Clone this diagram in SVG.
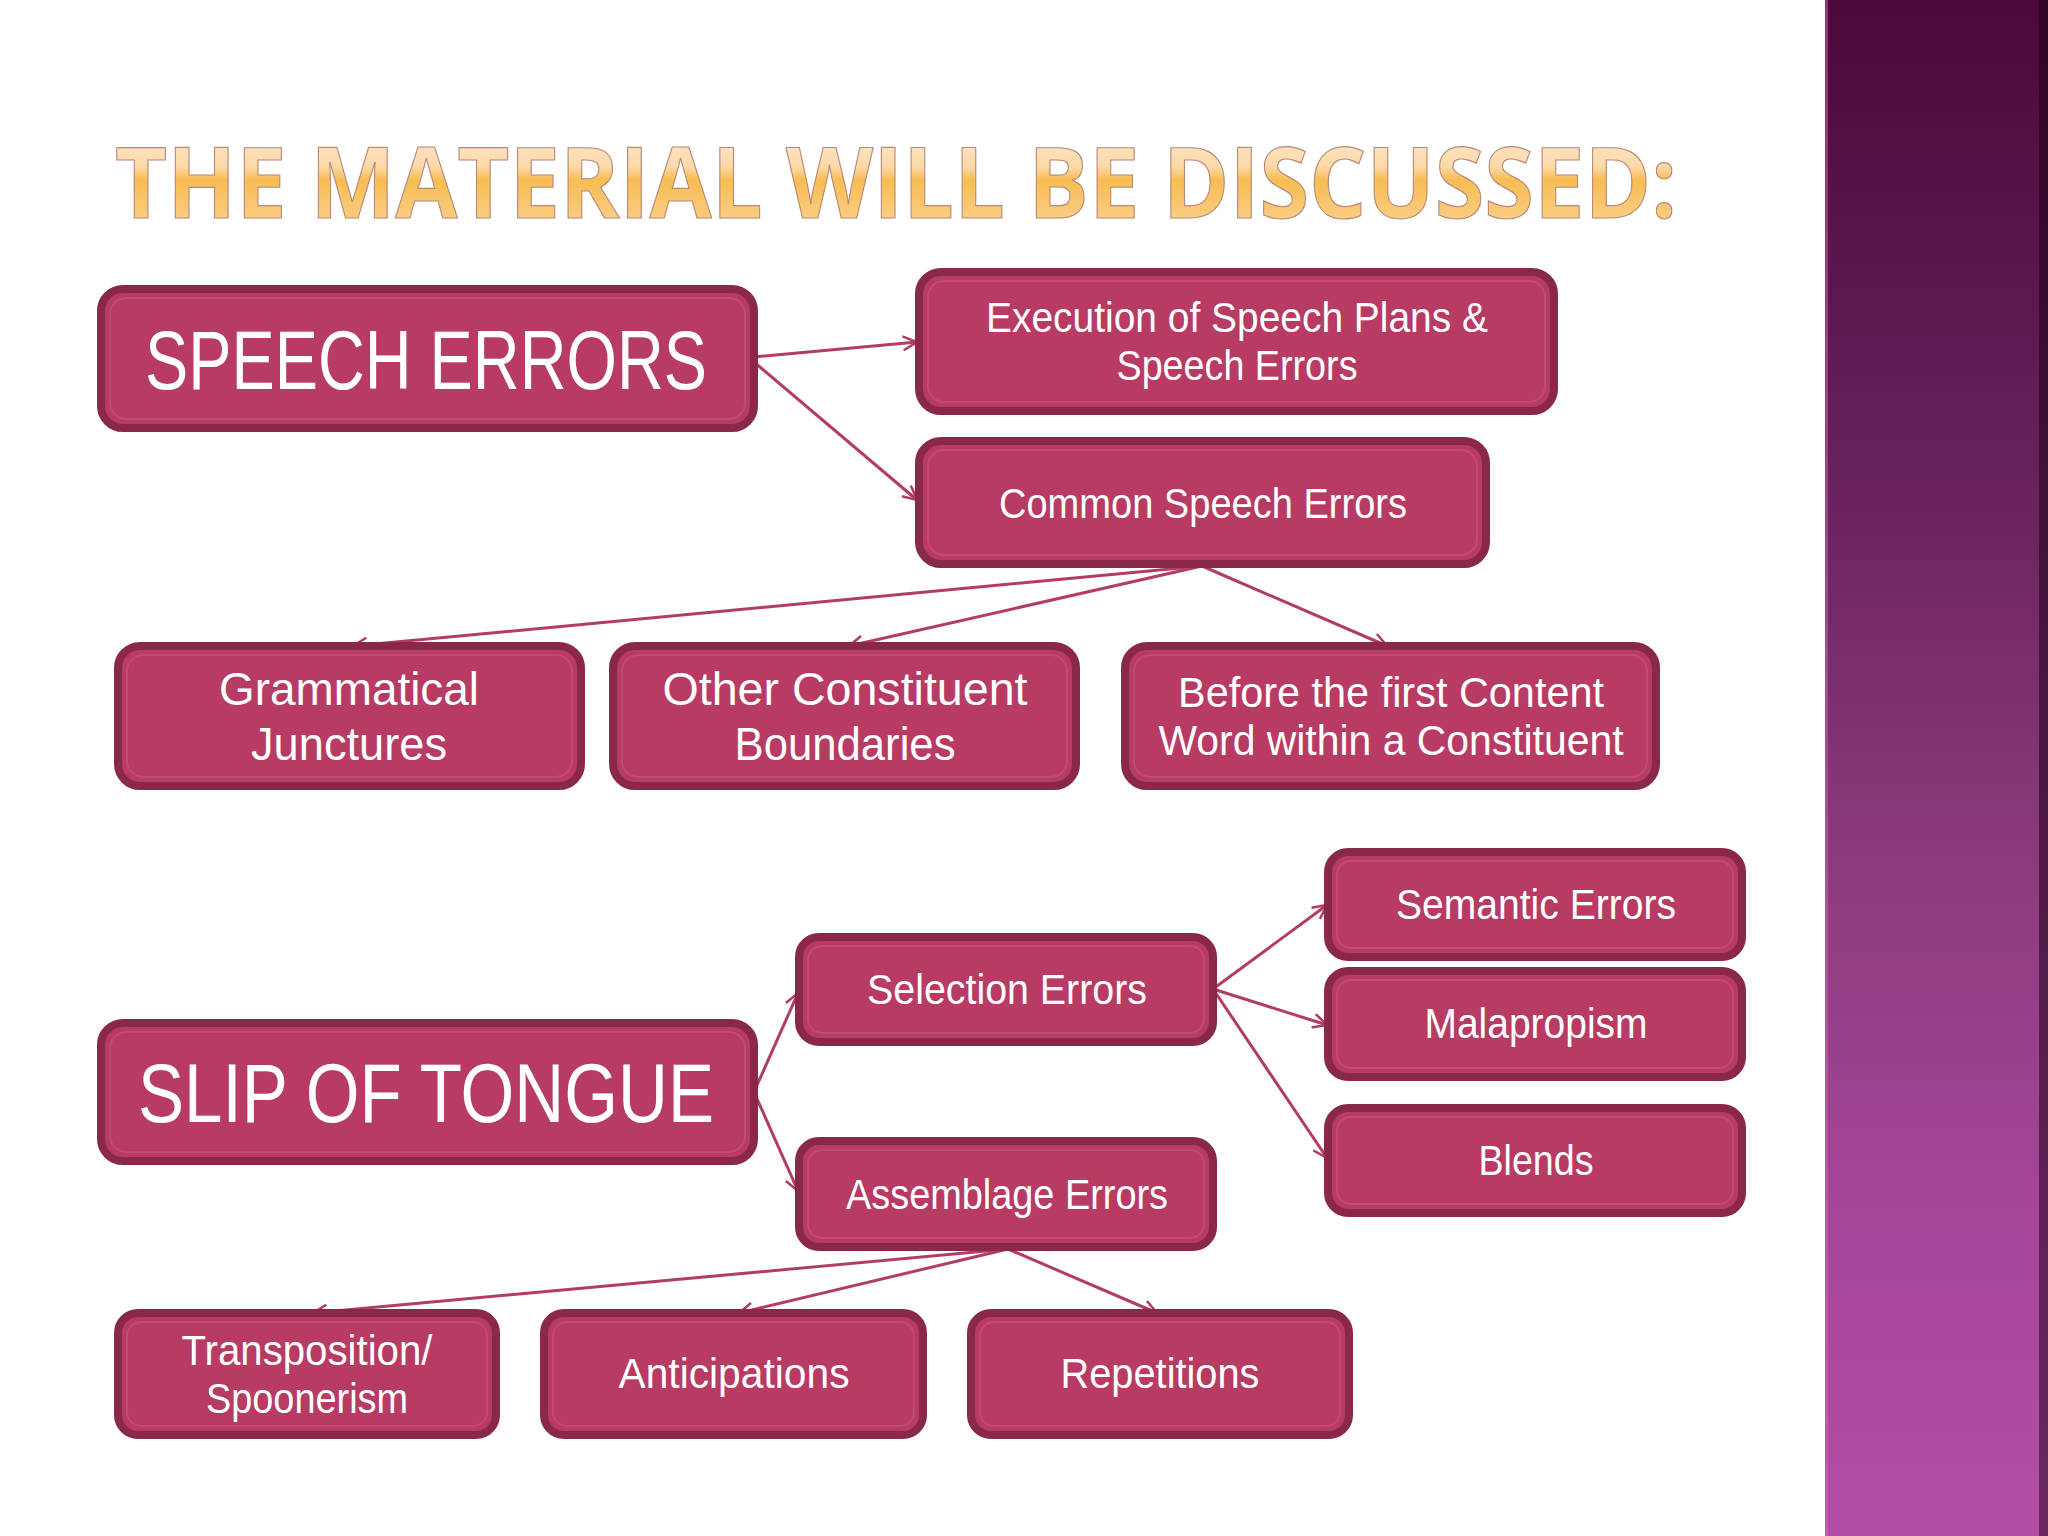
<svg xmlns="http://www.w3.org/2000/svg" width="2048" height="1536" viewBox="0 0 2048 1536">
<defs>
<linearGradient id="band" x1="0" y1="0" x2="0" y2="1">
<stop offset="0" stop-color="#4C0838"/>
<stop offset="0.3" stop-color="#66205C"/>
<stop offset="0.55" stop-color="#8A3A7C"/>
<stop offset="0.8" stop-color="#A6469A"/>
<stop offset="1" stop-color="#B24EA6"/>
</linearGradient>
<linearGradient id="edge" x1="0" y1="0" x2="0" y2="1">
<stop offset="0" stop-color="#2E0524"/>
<stop offset="1" stop-color="#6A2A60"/>
</linearGradient>
<linearGradient id="titleGrad" x1="0" y1="0" x2="0" y2="1">
<stop offset="0" stop-color="#FEF0E2"/>
<stop offset="0.4" stop-color="#FBD9A8"/>
<stop offset="0.5" stop-color="#F8BC52"/>
<stop offset="0.75" stop-color="#F9CB7C"/>
<stop offset="1" stop-color="#FBE0B8"/>
</linearGradient>
<marker id="arr" viewBox="0 0 16 16" refX="15" refY="8" markerWidth="16" markerHeight="16" markerUnits="userSpaceOnUse" orient="auto">
<path d="M1,1 L15,8 L1,15" fill="none" stroke="#B33C64" stroke-width="2.5"/>
</marker>
<style>
.box{fill:#B83B63;stroke:#8A2849;stroke-width:8}
.inner{fill:none;stroke:#C24B72;stroke-width:2}
.t{font-family:"Liberation Sans",Arial,sans-serif;fill:#FFFFFF;text-anchor:middle}
.big{font-size:84px}
.mid{font-size:42px}
.lg{font-size:47px}
.conn{stroke:#B33C64;stroke-width:3;fill:none;marker-end:url(#arr)}
</style>
</defs>
<rect x="0" y="0" width="2048" height="1536" fill="#FFFFFF"/>
<rect x="1825" y="0" width="223" height="1536" fill="url(#band)"/>
<rect x="1825" y="0" width="3" height="1536" fill="#C86BB8" opacity="0.5"/>
<rect x="2039" y="0" width="9" height="1536" fill="url(#edge)"/>
<text x="896" y="218" font-family="Open Sans, Noto Sans, sans-serif" font-weight="bold" font-size="98" fill="url(#titleGrad)" stroke="#B98A78" stroke-width="1.2" text-anchor="middle" textLength="1562" lengthAdjust="spacingAndGlyphs">THE MATERIAL WILL BE DISCUSSED:</text>

<g id="connectors">
<line class="conn" x1="754" y1="357" x2="917" y2="342"/>
<line class="conn" x1="754" y1="362" x2="917" y2="500"/>
<line class="conn" x1="1202" y1="566" x2="353" y2="646"/>
<line class="conn" x1="1202" y1="566" x2="849" y2="646"/>
<line class="conn" x1="1202" y1="566" x2="1387" y2="646"/>
<line class="conn" x1="754" y1="1092" x2="798" y2="993"/>
<line class="conn" x1="754" y1="1092" x2="798" y2="1191"/>
<line class="conn" x1="1213" y1="989" x2="1327" y2="905"/>
<line class="conn" x1="1213" y1="989" x2="1327" y2="1025"/>
<line class="conn" x1="1213" y1="989" x2="1327" y2="1158"/>
<line class="conn" x1="1008" y1="1249" x2="313" y2="1313"/>
<line class="conn" x1="1008" y1="1249" x2="739" y2="1313"/>
<line class="conn" x1="1008" y1="1249" x2="1157" y2="1313"/>
</g>

<g id="speech-errors">
<rect class="box" x="101" y="289" width="653" height="139" rx="22"/>
<rect class="inner" x="110" y="298" width="635" height="121" rx="16"/>
<text class="t big" x="426" y="389" textLength="562" lengthAdjust="spacingAndGlyphs">SPEECH ERRORS</text>
</g>
<g id="execution">
<rect class="box" x="919" y="272" width="635" height="139" rx="22"/>
<rect class="inner" x="928" y="281" width="617" height="121" rx="16"/>
<text class="t mid" x="1237" y="332" textLength="502" lengthAdjust="spacingAndGlyphs">Execution of Speech Plans &amp;</text>
<text class="t mid" x="1237" y="380" textLength="241" lengthAdjust="spacingAndGlyphs">Speech Errors</text>
</g>
<g id="common">
<rect class="box" x="919" y="441" width="567" height="123" rx="22"/>
<rect class="inner" x="928" y="450" width="549" height="105" rx="16"/>
<text class="t mid" x="1203" y="518" textLength="408" lengthAdjust="spacingAndGlyphs">Common Speech Errors</text>
</g>
<g id="grammatical">
<rect class="box" x="118" y="646" width="463" height="140" rx="22"/>
<rect class="inner" x="127" y="655" width="445" height="122" rx="16"/>
<text class="t lg" x="349" y="705" textLength="260" lengthAdjust="spacingAndGlyphs">Grammatical</text>
<text class="t lg" x="349" y="760" textLength="196" lengthAdjust="spacingAndGlyphs">Junctures</text>
</g>
<g id="other">
<rect class="box" x="613" y="646" width="463" height="140" rx="22"/>
<rect class="inner" x="622" y="655" width="445" height="122" rx="16"/>
<text class="t lg" x="845" y="705" textLength="365" lengthAdjust="spacingAndGlyphs">Other Constituent</text>
<text class="t lg" x="845" y="760" textLength="221" lengthAdjust="spacingAndGlyphs">Boundaries</text>
</g>
<g id="before">
<rect class="box" x="1125" y="646" width="531" height="140" rx="22"/>
<rect class="inner" x="1134" y="655" width="513" height="122" rx="16"/>
<text class="t mid" x="1391" y="707" textLength="426" lengthAdjust="spacingAndGlyphs">Before the first Content</text>
<text class="t mid" x="1391" y="755" textLength="465" lengthAdjust="spacingAndGlyphs">Word within a Constituent</text>
</g>
<g id="slip">
<rect class="box" x="101" y="1023" width="653" height="138" rx="22"/>
<rect class="inner" x="110" y="1032" width="635" height="120" rx="16"/>
<text class="t big" x="426" y="1122" textLength="576" lengthAdjust="spacingAndGlyphs">SLIP OF TONGUE</text>
</g>
<g id="selection">
<rect class="box" x="799" y="937" width="414" height="105" rx="20"/>
<rect class="inner" x="808" y="946" width="396" height="87" rx="14"/>
<text class="t mid" x="1007" y="1004" textLength="280" lengthAdjust="spacingAndGlyphs">Selection Errors</text>
</g>
<g id="assemblage">
<rect class="box" x="799" y="1141" width="414" height="106" rx="20"/>
<rect class="inner" x="808" y="1150" width="396" height="88" rx="14"/>
<text class="t mid" x="1007" y="1209" textLength="322" lengthAdjust="spacingAndGlyphs">Assemblage Errors</text>
</g>
<g id="semantic">
<rect class="box" x="1328" y="852" width="414" height="105" rx="20"/>
<rect class="inner" x="1337" y="861" width="396" height="87" rx="14"/>
<text class="t mid" x="1536" y="919" textLength="280" lengthAdjust="spacingAndGlyphs">Semantic Errors</text>
</g>
<g id="malapropism">
<rect class="box" x="1328" y="971" width="414" height="106" rx="20"/>
<rect class="inner" x="1337" y="980" width="396" height="88" rx="14"/>
<text class="t mid" x="1536" y="1038" textLength="223" lengthAdjust="spacingAndGlyphs">Malapropism</text>
</g>
<g id="blends">
<rect class="box" x="1328" y="1108" width="414" height="105" rx="20"/>
<rect class="inner" x="1337" y="1117" width="396" height="87" rx="14"/>
<text class="t mid" x="1536" y="1175" textLength="115" lengthAdjust="spacingAndGlyphs">Blends</text>
</g>
<g id="transposition">
<rect class="box" x="118" y="1313" width="378" height="122" rx="20"/>
<rect class="inner" x="127" y="1322" width="360" height="104" rx="14"/>
<text class="t mid" x="307" y="1365" textLength="251" lengthAdjust="spacingAndGlyphs">Transposition/</text>
<text class="t mid" x="307" y="1413" textLength="202" lengthAdjust="spacingAndGlyphs">Spoonerism</text>
</g>
<g id="anticipations">
<rect class="box" x="544" y="1313" width="379" height="122" rx="20"/>
<rect class="inner" x="553" y="1322" width="361" height="104" rx="14"/>
<text class="t mid" x="734" y="1388" textLength="231" lengthAdjust="spacingAndGlyphs">Anticipations</text>
</g>
<g id="repetitions">
<rect class="box" x="971" y="1313" width="378" height="122" rx="20"/>
<rect class="inner" x="980" y="1322" width="360" height="104" rx="14"/>
<text class="t mid" x="1160" y="1388" textLength="199" lengthAdjust="spacingAndGlyphs">Repetitions</text>
</g>
</svg>
